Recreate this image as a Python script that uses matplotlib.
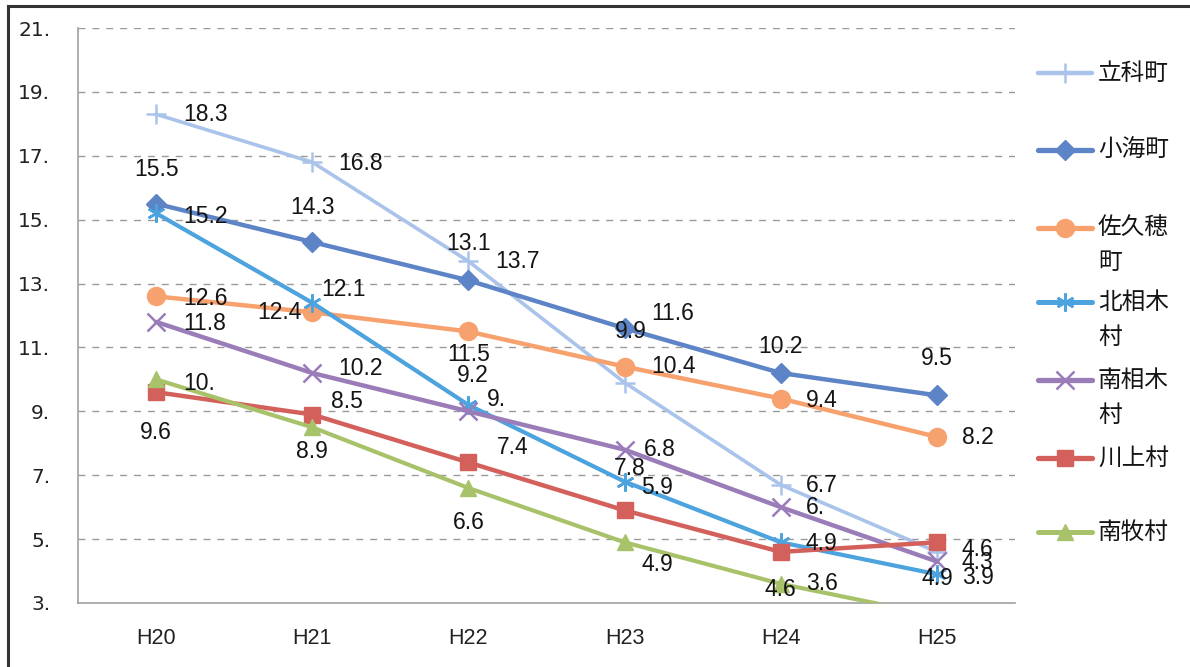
import matplotlib.pyplot as plt
from matplotlib.lines import Line2D

# categories (x axis)
years = ["H20", "H21", "H22", "H23", "H24", "H25"]

# series values
tateshina = [18.3, 16.8, 13.7, 9.9, 6.7, 4.6]
koumi = [15.5, 14.3, 13.1, 11.6, 10.2, 9.5]
sakuho = [12.6, 12.1, 11.5, 10.4, 9.4, 8.2]
kitaaiki = [15.2, 12.4, 9.2, 6.8, 4.9, 3.9]
minamiaiki = [11.8, 10.2, 9.0, 7.8, 6.0, 4.3]
kawakami = [9.6, 8.9, 7.4, 5.9, 4.6, 4.9]
minamimaki = [10.0, 8.5, 6.6, 4.9, 3.6, 2.6]

names = ["立科町", "小海町", "佐久穂\n町", "北相木\n村", "南相木\n村", "川上村", "南牧村"]
y_ticks = [3, 5, 7, 9, 11, 13, 15, 17, 19, 21]

series = [tateshina, koumi, sakuho, kitaaiki, minamiaiki, kawakami, minamimaki]

# styles
colors = ["#A9C3EA", "#5D84C6", "#F7A26E", "#4CA3DD", "#9A7CB9", "#D4605C", "#A8C26A"]
markers = ["+", "D", "o", (6, 2, 0), "x", "s", "^"]
msizes = [14, 10, 13, 13, 13, 12, 12]
lwidths = [2.6, 3.2, 3.2, 3.0, 3.2, 3.2, 3.0]
thin = [True, False, False, True, True, False, False]

# label placement per point: (dx px, dy px, alignment)
label_pos = [
    [(27, 0, "l"), (26, -1, "l"), (27, 0, "l"), (6, 51, "c"), (25, -1, "l"), (25, 2, "l")],
    [(0, 34, "c"), (0, 35, "c"), (0, 37, "c"), (27, 15, "l"), (0, 27, "c"), (0, 37, "c")],
    [(27, -2, "l"), (9, 23, "l"), (0, -23, "c"), (27, 0, "l"), (25, -2, "l"), (25, -1, "l")],
    [(27, -3, "l"), (-11, -10, "r"), (4, 29, "c"), (19, 32, "l"), (25, -1, "l"), (25, -3, "l")],
    [(27, -2, "l"), (26, 5, "l"), (18, 12, "l"), (5, -19, "c"), (25, 0, "l"), (25, -1, "l")],
    [(0, -40, "c"), (0, -37, "c"), (28, 15, "l"), (17, 23, "l"), (0, -38, "c"), (0, -36, "c")],
    [(27, -4, "l"), (19, 26, "l"), (0, -34, "c"), (17, -22, "l"), (25, 0, "l"), (0, 0, "l")],
]
HA = {"l": "left", "c": "center", "r": "right"}


def fmt(v):
    # excel style "10." / "9." labels
    return f"{v:.1f}".rstrip("0")


W, H = 1190, 667
fig = plt.figure(figsize=(W / 100, H / 100), dpi=100)
ax = fig.add_axes([78 / W, 1 - 603 / H, (1015 - 78) / W, (603 - 28) / H])

x = list(range(len(years)))
for i, vals in enumerate(series):
    ax.plot(x, vals, color=colors[i], lw=lwidths[i], marker=markers[i],
            markersize=msizes[i], markerfacecolor=colors[i], markeredgecolor=colors[i],
            markeredgewidth=1.8 if thin[i] else 1.0,
            solid_capstyle="round", zorder=3)
    for j, v in enumerate(vals):
        dx, dy, a = label_pos[i][j]
        ax.annotate(fmt(v), (j, v), xytext=(dx, dy), textcoords="offset pixels",
                    ha=HA[a], va="center", fontsize=16.5, family="Liberation Sans",
                    color="#141414", zorder=5)

ax.set_xlim(-0.5, 5.5)
ax.set_ylim(3, 21)
ax.set_yticks(y_ticks)
ax.set_yticklabels([fmt(t) for t in y_ticks], fontsize=14.5, family="DejaVu Sans",
                   color="#222222")
ax.set_xticks(x)
ax.set_xticklabels(years, fontsize=15.5, family="Liberation Sans", color="#222222")
ax.tick_params(axis="y", length=0, pad=20)
ax.tick_params(axis="x", length=0, pad=18)
for yv in y_ticks[1:]:
    ax.axhline(yv, color="#9a9a9a", lw=1.0, ls=(0, (5, 5)), zorder=1)
for s in ["top", "right"]:
    ax.spines[s].set_visible(False)
for s in ["left", "bottom"]:
    ax.spines[s].set_color("#a0a0a0")
    ax.spines[s].set_linewidth(1.2)

# legend drawn by hand on the right
leg_y = [73, 150, 228, 302, 380, 458, 532]
for i, name in enumerate(names):
    py = 1 - leg_y[i] / H
    fig.add_artist(Line2D([1038 / W, 1092 / W], [py, py], color=colors[i],
                          lw=lwidths[i] + 0.6, solid_capstyle="round"))
    fig.add_artist(Line2D([1065 / W], [py], color=colors[i], marker=markers[i],
                          markersize=msizes[i], markerfacecolor=colors[i],
                          markeredgecolor=colors[i],
                          markeredgewidth=1.8 if thin[i] else 1.0))
    for k, line in enumerate(name.split("\n")):
        fig.text(1098 / W, 1 - (leg_y[i] + k * 35) / H, line, ha="left", va="center",
                 fontsize=17, family=["Noto Sans CJK JP", "DejaVu Sans"], color="#141414")

# outer frame (left and top)
fig.add_artist(Line2D([8 / W, 8 / W], [0, 1 - 6 / H], color="#333333", lw=2.2))
fig.add_artist(Line2D([8 / W, 1], [1 - 6 / H, 1 - 6 / H], color="#333333", lw=2.2))

fig.savefig("out.png", dpi=100)
